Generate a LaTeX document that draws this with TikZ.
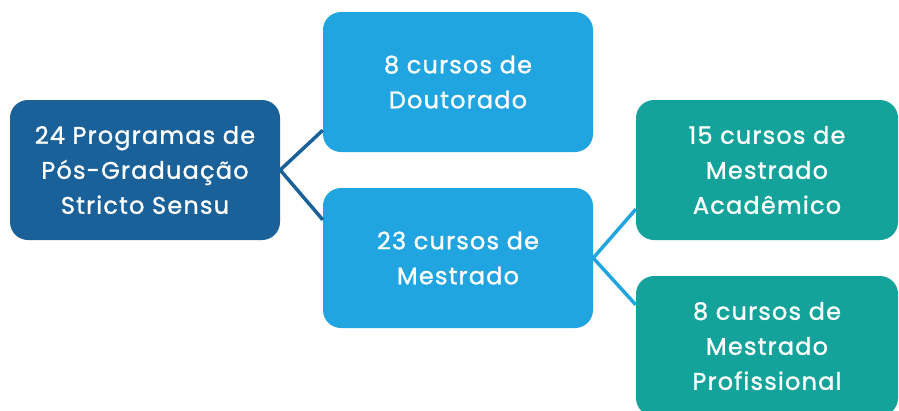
\documentclass[tikz,border=0pt]{standalone}
\usepackage{fontspec}
\setmainfont{Poppins}
\usepackage{tikz}
\usetikzlibrary{positioning,calc}
\definecolor{progblue}{RGB}{26,97,153}
\definecolor{cursblue}{RGB}{33,165,224}
\definecolor{mesteal}{RGB}{20,163,154}
\tikzset{
  box/.style={rounded corners=18pt, text=white, align=center,
              minimum width=270pt, minimum height=140pt, inner sep=0pt,
              font=\fontsize{24}{35}\selectfont\addfontfeature{FakeBold=1.2,LetterSpace=5}},
  lnk/.style={line width=3.5pt},
}

\begin{document}
\begin{tikzpicture}[x=1pt, y=-1pt]
  \useasboundingbox (0,0) rectangle (899,410);
  \node[box, fill=progblue] (prog) at (145,170)
       {24 Programas de\\Pós-Graduação\\Stricto Sensu};
  \node[box, fill=cursblue] (dout) at (458,82) {8 cursos de\\Doutorado};
  \node[box, fill=cursblue] (mest) at (458,258) {23 cursos de\\Mestrado};
  \node[box, fill=mesteal, minimum width=262pt] (acad) at (767,170)
       {15 cursos de\\Mestrado\\Acadêmico};
  \node[box, fill=mesteal, minimum width=262pt] (prof) at (767,346)
       {8 cursos de\\Mestrado\\Profissional};
  % connectors
  \draw[lnk, progblue] ($(dout.south west)+(0,-22)$) -- (prog.east)
       -- ($(mest.north west)+(0,32)$);
  \draw[lnk, cursblue] ($(acad.south west)+(0,-31)$) -- (mest.east)
       -- ($(prof.north west)+(0,29)$);
\end{tikzpicture}
\end{document}
